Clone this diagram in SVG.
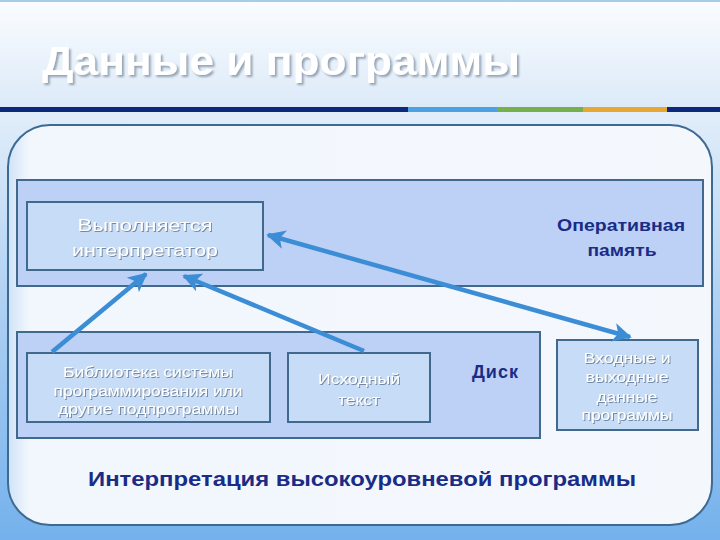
<svg xmlns="http://www.w3.org/2000/svg" width="720" height="540" viewBox="0 0 720 540">
<defs>
<linearGradient id="topbg" x1="0" y1="0" x2="0" y2="1">
<stop offset="0" stop-color="#fbfdff"/>
<stop offset="1" stop-color="#dbe9f8"/>
</linearGradient>
<linearGradient id="lowbg" x1="0" y1="0" x2="0" y2="1">
<stop offset="0" stop-color="#e2eefa"/>
<stop offset="0.5" stop-color="#a9cdf2"/>
<stop offset="1" stop-color="#74b1ec"/>
</linearGradient>
<linearGradient id="panel" x1="0" y1="0" x2="1" y2="0">
<stop offset="0" stop-color="#cfe3f7"/>
<stop offset="0.03" stop-color="#f2f7fd"/>
<stop offset="1" stop-color="#f4f8fd"/>
</linearGradient>
<filter id="emb" x="-10%" y="-20%" width="120%" height="150%">
<feDropShadow dx="1" dy="1" stdDeviation="0.6" flood-color="#6a7f99" flood-opacity="0.9"/>
</filter>
<filter id="tsh" x="-10%" y="-20%" width="120%" height="150%">
<feDropShadow dx="2" dy="2" stdDeviation="1" flood-color="#8c9aab" flood-opacity="0.9"/>
</filter>
<marker id="ah" viewBox="0 0 10 10" refX="9" refY="5" markerWidth="4.2" markerHeight="4.2" orient="auto-start-reverse" markerUnits="strokeWidth">
<path d="M0,0 L10,5 L0,10 L2.5,5 Z" fill="#3b8dd6"/>
</marker>
<style>
.band{fill:#bdd0f6;stroke:#41698e;stroke-width:2}
.box{fill:#c7dcf6;stroke:#41698e;stroke-width:2}
.wt{font-family:"Liberation Sans",Arial,sans-serif;fill:#ffffff;text-anchor:middle;filter:url(#emb)}
.nv{font-family:"Liberation Sans",Arial,sans-serif;fill:#1a2c86;font-weight:bold;text-anchor:middle}
.arr{stroke:#3b8dd6;stroke-width:4.5;fill:none;marker-end:url(#ah)}
</style>
</defs>
<rect x="0" y="0" width="720" height="110" fill="url(#topbg)"/>
<rect x="0" y="110" width="720" height="430" fill="url(#lowbg)"/>
<line x1="0" y1="1" x2="720" y2="1" stroke="#a6cde6" stroke-width="2"/>
<text x="42" y="75" font-family="Liberation Sans,Arial,sans-serif" font-size="40" font-weight="bold" fill="#ffffff" textLength="478" lengthAdjust="spacingAndGlyphs" filter="url(#tsh)">Данные и программы</text>
<rect x="0" y="107" width="408" height="5" fill="#0b2a7c"/>
<rect x="408" y="107" width="89" height="5" fill="#4aa2e2"/>
<rect x="497" y="107" width="86" height="5" fill="#76b04c"/>
<rect x="583" y="107" width="84" height="5" fill="#e6a733"/>
<rect x="667" y="107" width="53" height="5" fill="#0b2a7c"/>
<rect id="panel-outer" x="8" y="125" width="704" height="400" rx="42" ry="42" fill="url(#panel)" stroke="#3d6a92" stroke-width="2"/>
<g id="ram">
<rect class="band" x="17" y="180" width="686" height="106"/>
<text class="nv" font-size="17" x="621" y="231" textLength="128" lengthAdjust="spacingAndGlyphs">Оперативная</text>
<text class="nv" font-size="17" x="622" y="256" textLength="69" lengthAdjust="spacingAndGlyphs">память</text>
</g>
<g id="disk">
<rect class="band" x="17" y="332" width="523" height="106"/>
<text class="nv" font-size="18" x="495" y="378" textLength="46">Диск</text>
</g>
<g id="interp">
<rect class="box" x="27" y="202" width="236" height="68"/>
<text class="wt" font-size="16" x="145" y="231" textLength="135" lengthAdjust="spacingAndGlyphs">Выполняется</text>
<text class="wt" font-size="16" x="145" y="256" textLength="146" lengthAdjust="spacingAndGlyphs">интерпретатор</text>
</g>
<g id="library">
<rect class="box" x="27" y="353" width="243" height="69"/>
<text class="wt" font-size="14" x="148" y="377" textLength="170" lengthAdjust="spacingAndGlyphs">Библиотека системы</text>
<text class="wt" font-size="14" x="148" y="396" textLength="189" lengthAdjust="spacingAndGlyphs">программирования или</text>
<text class="wt" font-size="14" x="148" y="414" textLength="180" lengthAdjust="spacingAndGlyphs">другие подпрограммы</text>
</g>
<g id="source">
<rect class="box" x="288" y="353" width="142" height="69"/>
<text class="wt" font-size="15" x="359" y="384" textLength="82" lengthAdjust="spacingAndGlyphs">Исходный</text>
<text class="wt" font-size="15" x="359" y="405" textLength="42" lengthAdjust="spacingAndGlyphs">текст</text>
</g>
<g id="io">
<rect class="box" x="557" y="340" width="141" height="90"/>
<text class="wt" font-size="14" x="627" y="363" textLength="87" lengthAdjust="spacingAndGlyphs">Входные и</text>
<text class="wt" font-size="14" x="627" y="382" textLength="83" lengthAdjust="spacingAndGlyphs">выходные</text>
<text class="wt" font-size="14" x="627" y="402" textLength="61" lengthAdjust="spacingAndGlyphs">данные</text>
<text class="wt" font-size="14" x="627" y="420" textLength="91" lengthAdjust="spacingAndGlyphs">программы</text>
</g>
<g id="connectors">
<line class="arr" x1="52" y1="352" x2="146" y2="274"/>
<line class="arr" x1="364" y1="351" x2="184" y2="276"/>
<line class="arr" x1="268" y1="235" x2="630" y2="337" marker-start="url(#ah)"/>
</g>
<text class="nv" font-size="19.5" x="362" y="486" textLength="548" lengthAdjust="spacingAndGlyphs">Интерпретация высокоуровневой программы</text>
</svg>
